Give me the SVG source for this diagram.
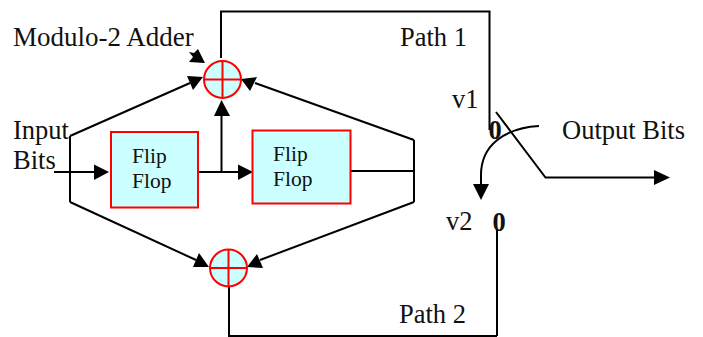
<svg xmlns="http://www.w3.org/2000/svg" width="703" height="337" viewBox="0 0 703 337">
<style>
text{font-family:"Liberation Serif","Times New Roman",serif;font-size:26.500px;fill:#111}
text.s{font-size:21.500px}
.b{font-weight:bold}
.box{fill:#ccffff;stroke:#ff0000;stroke-width:2}
.red{fill:none;stroke:#ff0000;stroke-width:2}
.c{fill:none;stroke:#000;stroke-width:2}
.h{fill:#000;stroke:none}
</style>
<rect width="703" height="337" fill="#fff"/>
<g id="connectors">
<path class="c" d="M221 58V11.500H489.500V130"/>
<path class="c" d="M229 286V336H497"/>
<path class="c" d="M497 229V336"/>
<path class="c" d="M70 136V202"/>
<path class="c" d="M70 136L190 83"/>
<path class="c" d="M70 202L196 260"/>
<path class="c" d="M54 172H95"/>
<path class="c" d="M197 172H240"/>
<path class="c" d="M221.500 172V115"/>
<path class="c" d="M351 171H414"/>
<path class="c" d="M414 140V202"/>
<path class="c" d="M414 140L255 83"/>
<path class="c" d="M414 202L260 260"/>
<path class="c" d="M496 112L545.500 177.500H655"/>
<path class="c" d="M539 126C505 128 481 145 481 175V186"/>
<polygon class="h" points="109,172 94,164.500 94,180"/>
<polygon class="h" points="253,172 238,164.500 238,180"/>
<polygon class="h" points="221.500,100 214,116 230,116"/>
<polygon class="h" points="203,77 187,76 193,90"/>
<polygon class="h" points="241,79 257,77 250,91"/>
<polygon class="h" points="209,267 193,267 199,253"/>
<polygon class="h" points="247,267 263,268 257,254"/>
<polygon class="h" points="205,63 198,49 194,53 189,52 193,57 189,62"/>
<polygon class="h" points="670,177.500 654,170 654,185"/>
<polygon class="h" points="481,200 473,184 489,184"/>
</g>
<g id="flip-flop-1">
<rect class="box" x="111" y="132" width="87" height="75.500"/>
<text class="s" x="132" y="163">Flip</text>
<text class="s" x="132" y="188">Flop</text>
</g>
<g id="flip-flop-2">
<rect class="box" x="252.500" y="130.500" width="98" height="73"/>
<text class="s" x="273" y="161">Flip</text>
<text class="s" x="273" y="186">Flop</text>
</g>
<g id="adder-1">
<circle class="box" cx="222.500" cy="79.500" r="18.500"/>
<path class="red" d="M204 79.500H241M222.500 61V98"/>
</g>
<g id="adder-2">
<circle class="box" cx="228.500" cy="268" r="18.500"/>
<path class="red" d="M210 268H247M228.500 249.500V286.500"/>
</g>
<g id="labels">
<text x="13" y="46" style="font-size:27px">Modulo-2 Adder</text>
<text x="13" y="139">Input</text>
<text x="13" y="169">Bits</text>
<text x="400" y="46">Path 1</text>
<text x="452" y="108">v1</text>
<text x="488.500" y="139" class="b">0</text>
<text x="562" y="139">Output Bits</text>
<text x="446" y="230">v2</text>
<text x="492.500" y="231" class="b">0</text>
<text x="399" y="322.500">Path 2</text>
</g>
</svg>
